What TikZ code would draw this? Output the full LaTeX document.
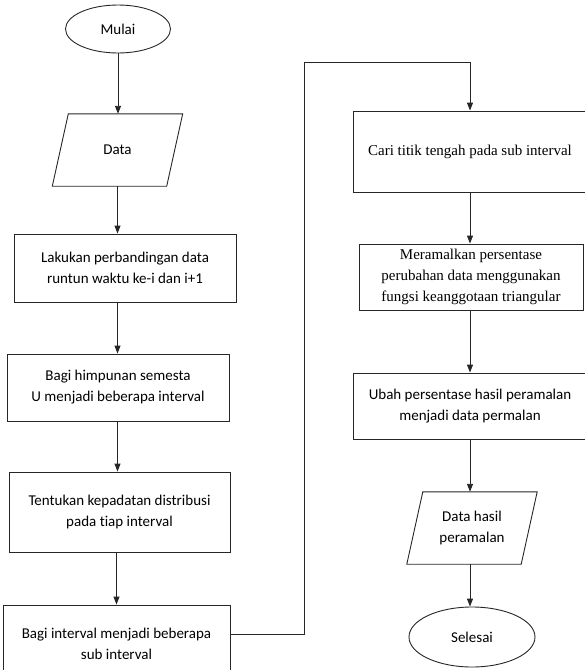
\documentclass[tikz,border=0pt]{standalone}
\usepackage{fontspec}
\setmainfont{Carlito}[Ligatures=NoCommon]
\newfontfamily\timesfont{Liberation Serif}
\usetikzlibrary{shapes.geometric,arrows.meta,calc}

\begin{document}
\begin{tikzpicture}[x=1pt, y=-1pt,
    line/.style={draw=black!85, line width=0.9pt},
    arr/.style={line, -{Triangle[width=6pt,length=8pt]}},
    txt/.style={align=center, font=\fontsize{15}{21}\selectfont},
    proc/.style={line, txt, rectangle, inner sep=0pt},
    term/.style={line, txt, ellipse, inner sep=0pt},
    io/.style={txt, rectangle, minimum width=114pt, minimum height=72pt, inner sep=0pt}]
    \path [use as bounding box, clip] (0,0) rectangle (585,670);

    % left column
    \node [term, minimum width=105pt, minimum height=48pt] at (118,29) (mulai) {Mulai};
    \node [io] at (117.5,150) (data) {Data};
    \node [proc, minimum width=222pt, minimum height=68pt] at (125,268) (banding)
        {Lakukan perbandingan data\\runtun waktu ke-i dan i+1};
    \node [proc, minimum width=222pt, minimum height=67pt] at (118,387.5) (semesta)
        {Bagi himpunan semesta\\U menjadi beberapa interval};
    \node [proc, minimum width=221pt, minimum height=80pt] at (119.5,512) (densitas)
        {Tentukan kepadatan distribusi\\pada tiap interval};
    \node [proc, minimum width=227pt, minimum height=78pt] at (116.5,644) (subint)
        {Bagi interval menjadi beberapa\\sub interval};

    % right column
    \node [proc, minimum width=234pt, minimum height=81pt] at (470,151.5) (tengah)
        {\timesfont Cari titik tengah pada sub interval};
    \node [proc, minimum width=224pt, minimum height=66pt] at (471,277) (ramal)
        {\timesfont Meramalkan persentase\\\timesfont perubahan data menggunakan\\\timesfont fungsi keanggotaan triangular};
    \node [proc, minimum width=234pt, minimum height=66pt] at (470,406) (ubah)
        {Ubah persentase hasil peramalan\\menjadi data permalan};
    \node [io] at (472,528) (hasil) {Data hasil\\peramalan};
    \node [term, minimum width=126pt, minimum height=60pt] at (472,637) (selesai) {Selesai};

    % slanted sides of the input/output boxes
    \foreach \n in {data,hasil}
        \draw [line] ($(\n.south west)+(-8,0)$) -- ($(\n.north west)+(8,0)$)
            -- ($(\n.north east)+(8,0)$) -- ($(\n.south east)+(-8,0)$) -- cycle;

    \coordinate (belok) at (304,62);

    \draw [arr] (mulai.south) -- (mulai.south |- data.north);
    \draw [arr] (data.south) -- (data.south |- banding.north);
    \draw [arr] (data.south |- banding.south) -- (data.south |- semesta.north);
    \draw [arr] (data.south |- semesta.south) -- (data.south |- densitas.north);
    \draw [arr] (subint.north |- densitas.south) -- (subint.north);
    \draw [arr] ([yshift=10pt]subint.east) -| (belok) -| (tengah.north);
    \draw [arr] (tengah.south) -- (tengah.south |- ramal.north);
    \draw [arr] (tengah.south |- ramal.south) -- (ubah.north);
    \draw [arr] (ubah.south) -- (ubah.south |- hasil.north);
    \draw [arr] (ubah.south |- hasil.south) -- (ubah.south |- selesai.north);
\end{tikzpicture}
\end{document}
